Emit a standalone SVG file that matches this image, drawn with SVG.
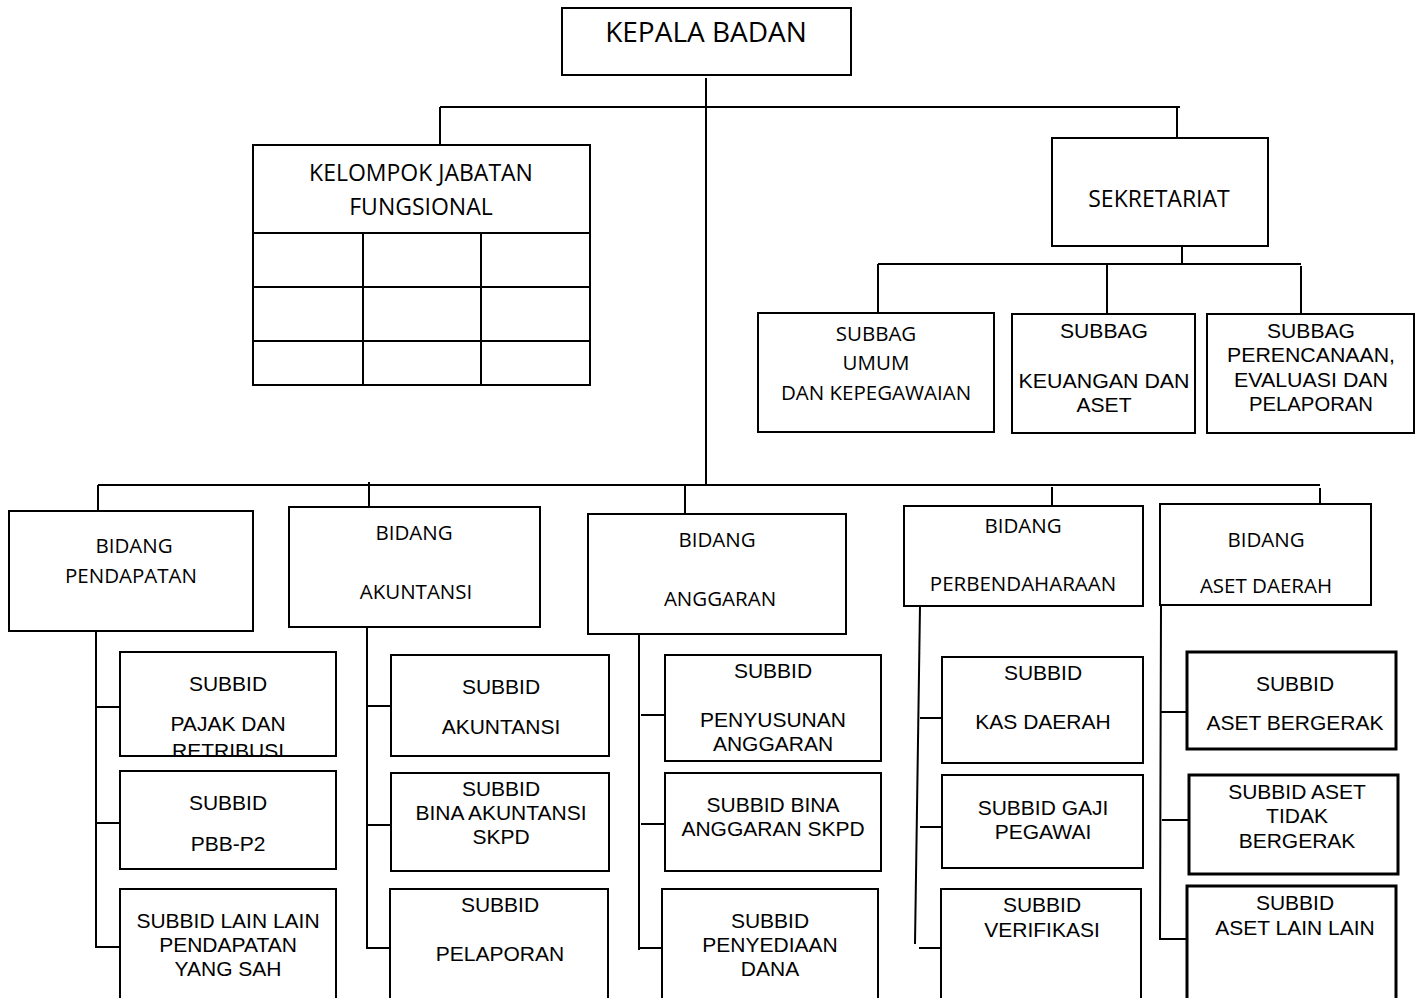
<svg xmlns="http://www.w3.org/2000/svg" width="1421" height="998" viewBox="0 0 1421 998">
<style>
rect{fill:#fff;stroke:#000;stroke-width:2}
rect.thick{stroke-width:3}
line,polyline{stroke:#000;stroke-width:2;fill:none}
text{fill:#000;text-anchor:middle}
.c{font-family:"Open Sans","Liberation Sans",sans-serif;font-size:20.5px}
.a{font-family:"Liberation Sans",Arial,sans-serif;font-size:21px}
.n{font-family:"Liberation Sans",Arial,sans-serif;font-size:21px}
</style>
<defs>
<clipPath id="clipPajak"><rect x="120" y="652" width="216" height="103"/></clipPath>
</defs>
<rect x="0" y="0" width="1421" height="998" style="stroke:none"/>
<g id="connectors">
<line x1="706" y1="78" x2="706" y2="486"/>
<line x1="440" y1="107" x2="1180" y2="107"/>
<line x1="440" y1="107" x2="440" y2="145"/>
<line x1="1177" y1="107" x2="1177" y2="138"/>
<line x1="1182" y1="246" x2="1182" y2="264"/>
<line x1="878" y1="264" x2="1301" y2="264"/>
<line x1="878" y1="264" x2="878" y2="313"/>
<line x1="1107" y1="265" x2="1107" y2="313"/>
<line x1="1301" y1="266" x2="1301" y2="313"/>
<line x1="98" y1="485" x2="1320" y2="485"/>
<line x1="98" y1="485" x2="98" y2="512"/>
<line x1="369" y1="482" x2="369" y2="514"/>
<line x1="685" y1="484" x2="685" y2="515"/>
<line x1="1052" y1="487" x2="1052" y2="507"/>
<line x1="1320" y1="488" x2="1320" y2="505"/>
<line x1="96" y1="631" x2="96" y2="948"/>
<line x1="96" y1="707" x2="120" y2="707"/>
<line x1="96" y1="823" x2="120" y2="823"/>
<line x1="96" y1="947" x2="120" y2="947"/>
<line x1="367" y1="627" x2="367" y2="949"/>
<line x1="367" y1="706" x2="391" y2="706"/>
<line x1="367" y1="825" x2="391" y2="825"/>
<line x1="367" y1="948" x2="390" y2="948"/>
<line x1="639" y1="634" x2="639" y2="950"/>
<line x1="641" y1="715" x2="665" y2="715"/>
<line x1="641" y1="824" x2="665" y2="824"/>
<line x1="639" y1="948" x2="662" y2="948"/>
<line x1="920" y1="606" x2="915" y2="944"/>
<line x1="920" y1="718" x2="942" y2="718"/>
<line x1="920" y1="827" x2="942" y2="827"/>
<line x1="919" y1="948" x2="941" y2="948"/>
<polyline points="1161,605 1160,939 1187,939"/>
<line x1="1160" y1="712" x2="1187" y2="712"/>
<line x1="1162" y1="820" x2="1189" y2="820"/>
</g>
<g id="kepala-badan">
<rect x="562" y="8" width="289" height="67"/>
<text class="c" x="706" y="42" style="font-size:28px">KEPALA BADAN</text>
</g>
<g id="kelompok-jabatan-fungsional">
<rect x="253" y="145" width="337" height="240"/>
<line x1="253" y1="233" x2="590" y2="233"/>
<line x1="253" y1="287" x2="590" y2="287"/>
<line x1="253" y1="341" x2="590" y2="341"/>
<line x1="363" y1="233" x2="363" y2="385"/>
<line x1="481" y1="233" x2="481" y2="385"/>
<text class="c" x="421" y="181" style="font-size:23px">KELOMPOK JABATAN</text>
<text class="c" x="421" y="215" style="font-size:23px">FUNGSIONAL</text>
</g>
<g id="sekretariat">
<rect x="1052" y="138" width="216" height="108"/>
<text class="c" x="1159" y="207" style="font-size:23px">SEKRETARIAT</text>
</g>
<g id="subbag-umum">
<rect x="758" y="313" width="236" height="119"/>
<text class="c" x="876" y="341">SUBBAG</text>
<text class="c" x="876" y="370">UMUM</text>
<text class="c" x="876" y="400">DAN KEPEGAWAIAN</text>
</g>
<g id="subbag-keuangan">
<rect x="1012" y="314" width="183" height="119"/>
<text class="n" x="1104" y="338" textLength="88" lengthAdjust="spacingAndGlyphs">SUBBAG</text>
<text class="n" x="1104" y="388" textLength="171" lengthAdjust="spacingAndGlyphs">KEUANGAN DAN</text>
<text class="n" x="1104" y="412" textLength="55" lengthAdjust="spacingAndGlyphs">ASET</text>
</g>
<g id="subbag-perencanaan">
<rect x="1207" y="314" width="207" height="119"/>
<text class="n" x="1311" y="338" textLength="88" lengthAdjust="spacingAndGlyphs">SUBBAG</text>
<text class="n" x="1311" y="362" textLength="168" lengthAdjust="spacingAndGlyphs">PERENCANAAN,</text>
<text class="n" x="1311" y="387" textLength="154" lengthAdjust="spacingAndGlyphs">EVALUASI DAN</text>
<text class="n" x="1311" y="411" textLength="124" lengthAdjust="spacingAndGlyphs">PELAPORAN</text>
</g>
<g id="bidang-pendapatan">
<rect x="9" y="511" width="244" height="120"/>
<text class="c" x="134" y="553">BIDANG</text>
<text class="c" x="131" y="583">PENDAPATAN</text>
</g>
<g id="subbid-pajak">
<rect x="120" y="652" width="216" height="104"/>
<g clip-path="url(#clipPajak)">
<text class="a" x="228" y="691">SUBBID</text>
<text class="a" x="228" y="731">PAJAK DAN</text>
<text class="a" x="228" y="758">RETRIBUSI</text>
</g>
</g>
<g id="subbid-pbb">
<rect x="120" y="771" width="216" height="98"/>
<text class="a" x="228" y="810">SUBBID</text>
<text class="a" x="228" y="851">PBB-P2</text>
</g>
<g id="subbid-lain-pendapatan">
<rect x="120" y="889" width="216" height="112"/>
<text class="a" x="228" y="928">SUBBID LAIN LAIN</text>
<text class="a" x="228" y="952">PENDAPATAN</text>
<text class="a" x="228" y="976">YANG SAH</text>
</g>
<g id="bidang-akuntansi">
<rect x="289" y="507" width="251" height="120"/>
<text class="c" x="414" y="540">BIDANG</text>
<text class="c" x="416" y="599">AKUNTANSI</text>
</g>
<g id="subbid-akuntansi">
<rect x="391" y="655" width="218" height="101"/>
<text class="a" x="501" y="694">SUBBID</text>
<text class="a" x="501" y="734">AKUNTANSI</text>
</g>
<g id="subbid-bina-akuntansi">
<rect x="391" y="773" width="218" height="98"/>
<text class="a" x="501" y="796">SUBBID</text>
<text class="a" x="501" y="820">BINA AKUNTANSI</text>
<text class="a" x="501" y="844">SKPD</text>
</g>
<g id="subbid-pelaporan">
<rect x="390" y="889" width="218" height="112"/>
<text class="a" x="500" y="912">SUBBID</text>
<text class="a" x="500" y="961">PELAPORAN</text>
</g>
<g id="bidang-anggaran">
<rect x="588" y="514" width="258" height="120"/>
<text class="c" x="717" y="547">BIDANG</text>
<text class="c" x="720" y="606">ANGGARAN</text>
</g>
<g id="subbid-penyusunan">
<rect x="665" y="655" width="216" height="106"/>
<text class="a" x="773" y="678">SUBBID</text>
<text class="a" x="773" y="727">PENYUSUNAN</text>
<text class="a" x="773" y="751">ANGGARAN</text>
</g>
<g id="subbid-bina-anggaran">
<rect x="665" y="773" width="216" height="98"/>
<text class="a" x="773" y="812">SUBBID BINA</text>
<text class="a" x="773" y="836">ANGGARAN SKPD</text>
</g>
<g id="subbid-penyediaan">
<rect x="662" y="889" width="216" height="112"/>
<text class="a" x="770" y="928">SUBBID</text>
<text class="a" x="770" y="952">PENYEDIAAN</text>
<text class="a" x="770" y="976">DANA</text>
</g>
<g id="bidang-perbendaharaan">
<rect x="904" y="506" width="239" height="100"/>
<text class="c" x="1023" y="533">BIDANG</text>
<text class="c" x="1023" y="591">PERBENDAHARAAN</text>
</g>
<g id="subbid-kas-daerah">
<rect x="942" y="657" width="201" height="106"/>
<text class="a" x="1043" y="680">SUBBID</text>
<text class="a" x="1043" y="729">KAS DAERAH</text>
</g>
<g id="subbid-gaji">
<rect x="942" y="775" width="201" height="93"/>
<text class="a" x="1043" y="815">SUBBID GAJI</text>
<text class="a" x="1043" y="839">PEGAWAI</text>
</g>
<g id="subbid-verifikasi">
<rect x="941" y="889" width="200" height="112"/>
<text class="a" x="1042" y="912">SUBBID</text>
<text class="a" x="1042" y="937">VERIFIKASI</text>
</g>
<g id="bidang-aset-daerah">
<rect x="1160" y="504" width="211" height="101"/>
<text class="c" x="1266" y="547">BIDANG</text>
<text class="c" x="1266" y="593">ASET DAERAH</text>
</g>
<g id="subbid-aset-bergerak">
<rect class="thick" x="1187" y="652" width="209" height="97"/>
<text class="a" x="1295" y="691">SUBBID</text>
<text class="a" x="1295" y="730">ASET BERGERAK</text>
</g>
<g id="subbid-aset-tidak-bergerak">
<rect class="thick" x="1189" y="775" width="209" height="99"/>
<text class="a" x="1297" y="799">SUBBID ASET</text>
<text class="a" x="1297" y="823">TIDAK</text>
<text class="a" x="1297" y="848">BERGERAK</text>
</g>
<g id="subbid-aset-lain">
<rect class="thick" x="1187" y="886" width="209" height="115"/>
<text class="a" x="1295" y="910">SUBBID</text>
<text class="a" x="1295" y="935">ASET LAIN LAIN</text>
</g>
</svg>
